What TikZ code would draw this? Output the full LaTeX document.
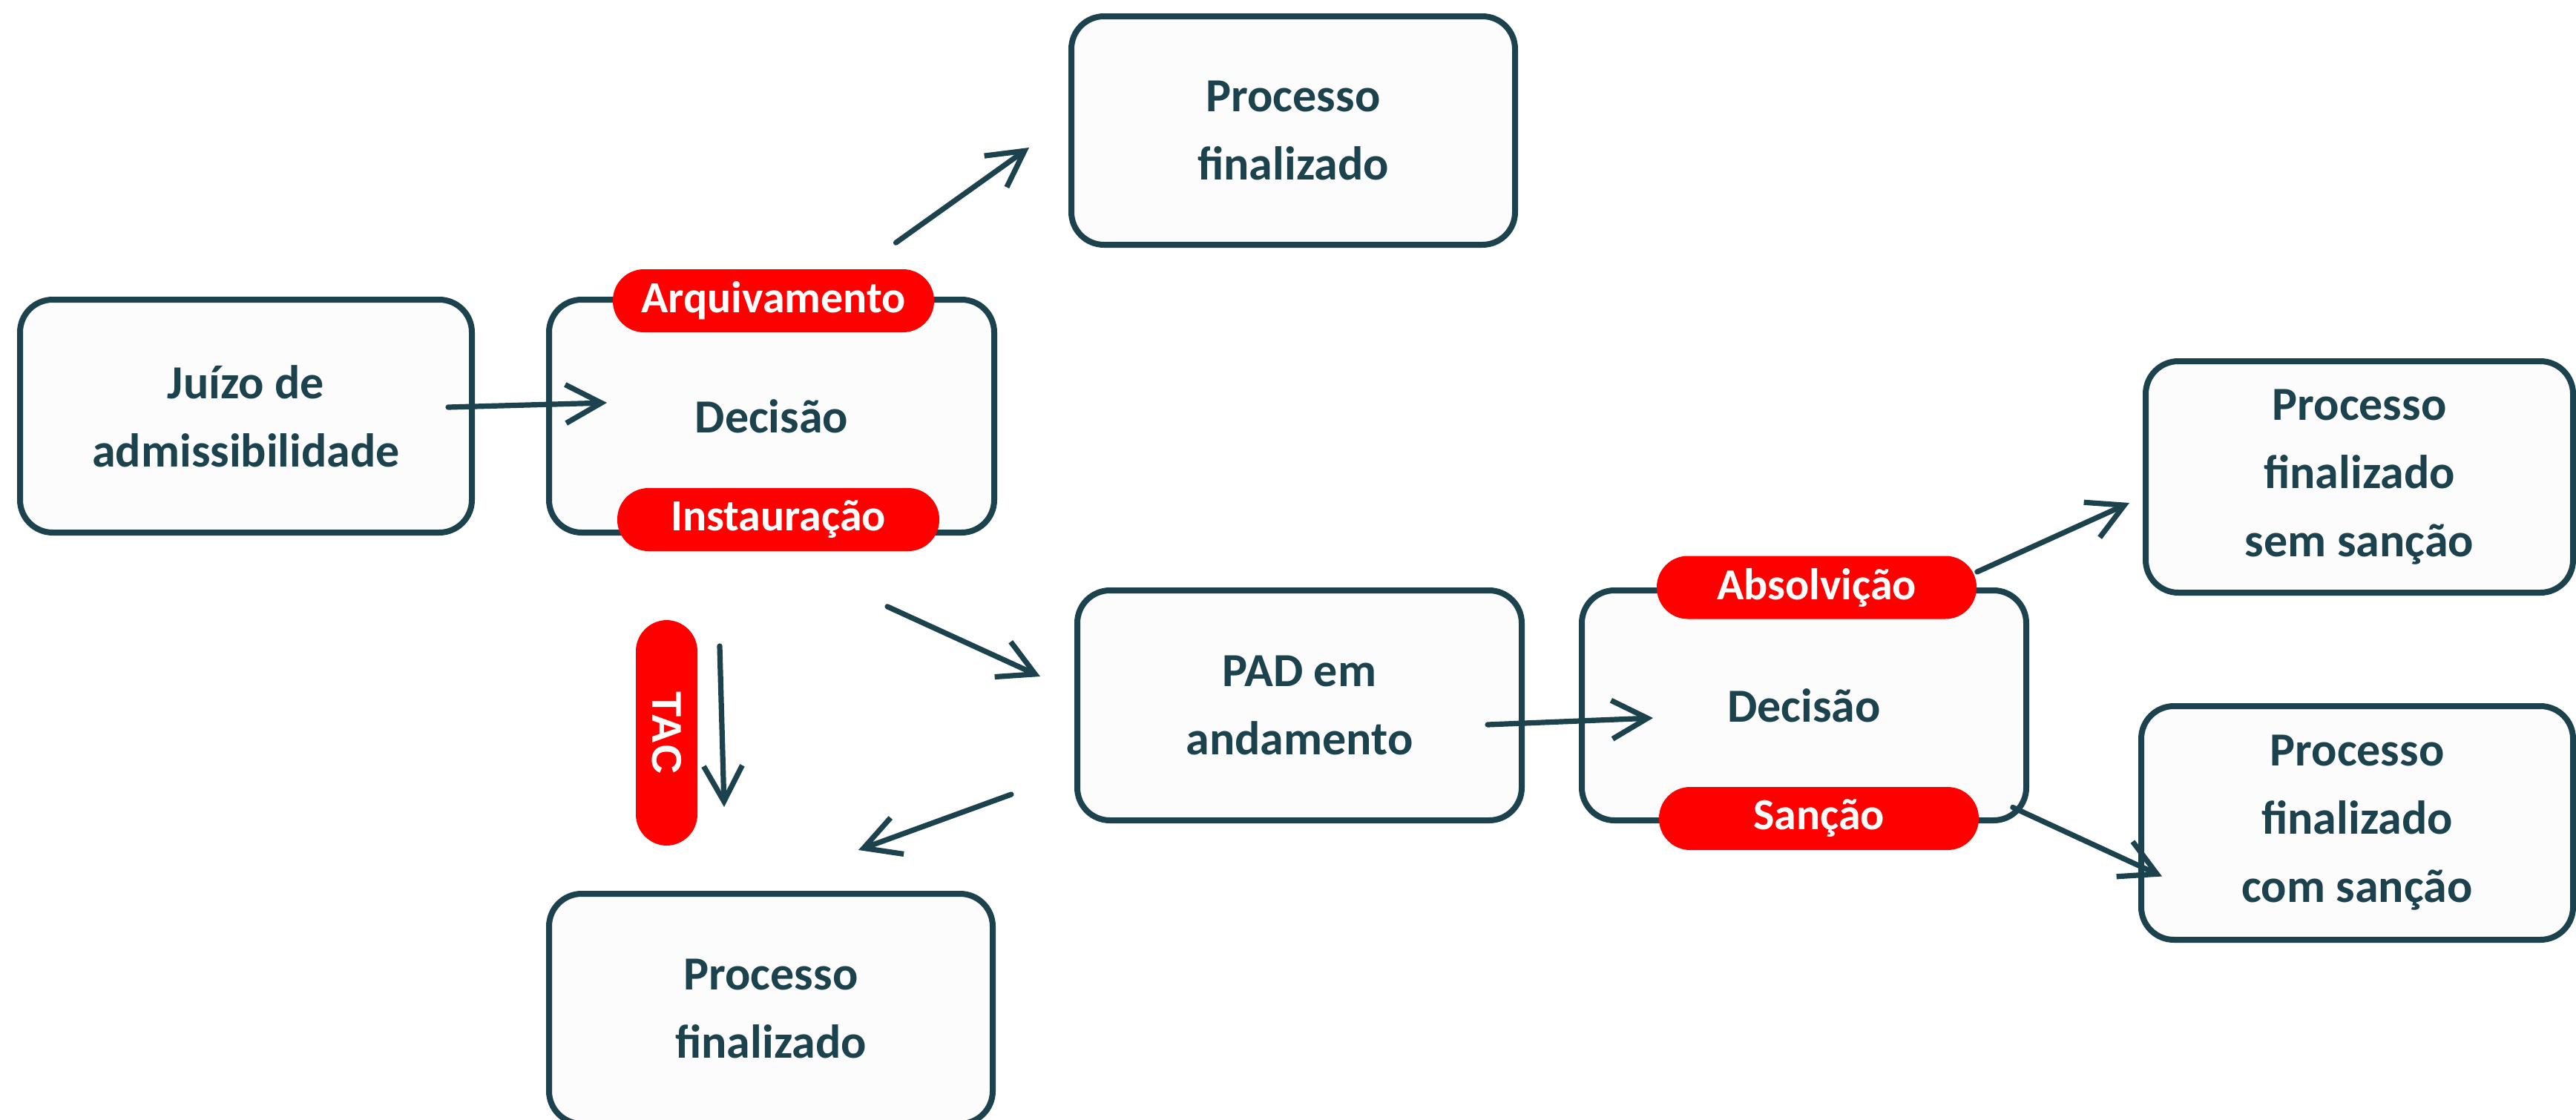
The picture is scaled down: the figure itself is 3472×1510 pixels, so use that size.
\documentclass[tikz,border=0pt]{standalone}
\usepackage{fontspec}
\setmainfont{Carlito}
\newfontfamily\tacfont{Liberation Sans}
\usetikzlibrary{arrows.meta,calc}
\definecolor{ink}{HTML}{1B424D}
\definecolor{boxfill}{HTML}{FCFCFC}
\definecolor{pillred}{HTML}{FF0000}
\begin{document}
\begin{tikzpicture}[x=0.25pt,y=-0.25pt,
  box/.style={draw=ink, line width=2pt, fill=boxfill, rounded corners=11pt,
    align=center, text=ink, font=\bfseries\fontsize{16}{23}\selectfont, inner sep=0pt},
  pill/.style={fill=pillred, rounded corners=10.5pt, text=white,
    font=\bfseries\fontsize{15}{18}\selectfont, inner sep=0pt, minimum height=21.25pt},
  arr/.style={draw=ink, line width=1.8pt, line cap=round,
    -{Straight Barb[length=12pt,width=13pt]}}]
\useasboundingbox (0,0) rectangle (3472,1510);
\clip (0,0) rectangle (3472,1510);
% boxes
\node[box, minimum width=152.25pt, minimum height=78.5pt] (juizo) at (331.5,561) {Juízo de\\admissibilidade};
\node[box, minimum width=150pt, minimum height=78.5pt] (dec1) at (1040,561) {Decisão};
\node[box, minimum width=149.5pt, minimum height=77pt] (pf1) at (1743,176) {Processo\\finalizado};
\node[box, minimum width=149.75pt, minimum height=77.5pt] (pad) at (1751.5,951) {PAD em\\andamento};
\node[box, minimum width=149.5pt, minimum height=77.5pt] (pf2) at (1039,1360) {Processo\\finalizado};
\node[box, minimum width=149.75pt, minimum height=77.5pt] (dec2) at (2431.5,951) {Decisão};
\node[box, minimum width=144pt, minimum height=78pt] (pf3) at (3180,643) {Processo\\finalizado\\sem sanção};
\node[box, minimum width=145.5pt, minimum height=78.75pt] (pf4) at (3177,1109.5) {Processo\\finalizado\\com sanção};
% pills
\node[pill, minimum width=108.25pt] (arq) at (1042.5,405.5) {Arquivamento};
\node[pill, minimum width=108.5pt] (inst) at (1049,700.5) {Instauração};
\node[pill, minimum width=107.75pt] (abs) at (2448.5,792) {Absolvição};
\node[pill, minimum width=107.75pt] (san) at (2451.5,1103.5) {Sanção};
\node[pill, minimum width=76pt, minimum height=20.75pt, rotate=-90,
  font=\tacfont\bfseries\fontsize{14}{16}\selectfont] (tac) at (898.5,988) {TAC};
% arrows
\draw[arr] ($(juizo.east)+(-36,-12)$) -- ($(dec1.west)+(82,-18)$);
\draw[arr] ($(arq.north)+(165,-35)$) -- ($(pf1.west)+(-53,23)$);
\draw[arr] ($(inst.south)+(147,74)$) -- ($(pad.west)+(-46,-39)$);
\draw[arr] ($(dec1.south)+(-70,149)$) -- ($(pf2.north)+(-63,-113)$);
\draw[arr] ($(pad.south west)+(-85,-39)$) -- ($(pf2.north east)+(-185,-55)$);
\draw[arr] ($(pad.east)+(-50,26)$) -- ($(dec2.west)+(100,17)$);
\draw[arr] ($(abs.east)+(0,-21)$) -- ($(pf3.west)+(-18,35)$);
\draw[arr] ($(san.east)+(45,-15)$) -- ($(pf4.west)+(32,72)$);
\end{tikzpicture}
\end{document}
